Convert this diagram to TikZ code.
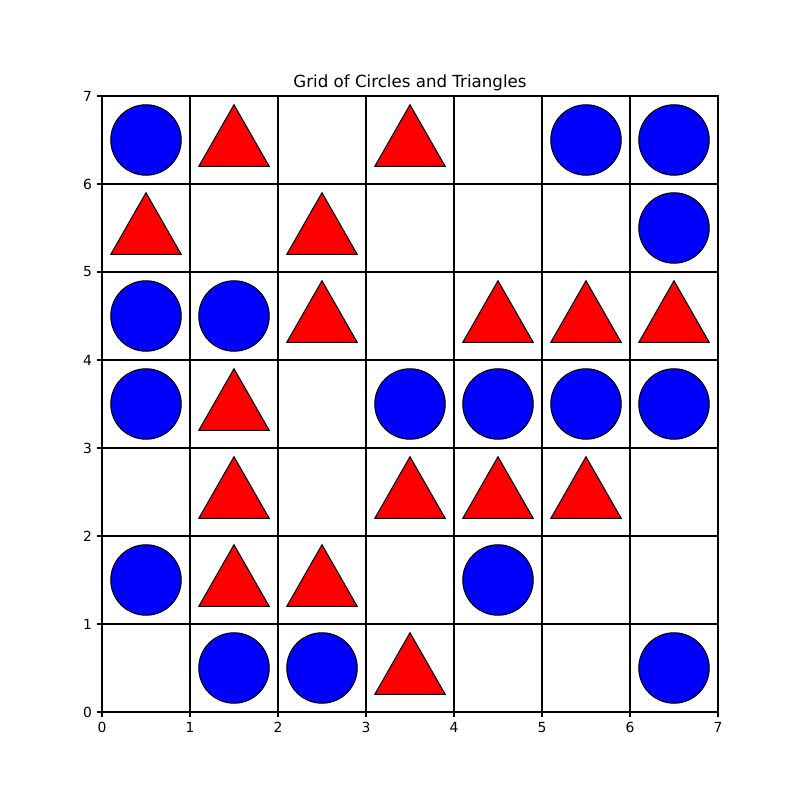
\documentclass[tikz,border=0pt]{standalone}
\usepackage{fontspec}
\setmainfont{DejaVu Sans}
\begin{document}
\begin{tikzpicture}[x=63.36pt,y=63.36pt,
 circ/.style={circle,draw=black,fill=blue,line width=0.8pt,minimum size=50.688pt,inner sep=0pt},
 tri/.style={draw=black,fill=red,line width=0.8pt},
 gridline/.style={draw=black,line width=0.8pt},
 ticklab/.style={font=\fontsize{10}{12}\selectfont,inner sep=0pt},
 titlelab/.style={font=\fontsize{12}{14}\selectfont,inner sep=0pt}]
\useasboundingbox (-1.1591,-1) rectangle (7.9318,8.0909);
% grid
\foreach \i in {1,...,6} {
  \draw[gridline] (\i,0) -- (\i,7);
  \draw[gridline] (0,\i) -- (7,\i);
}
\draw[gridline] (0,0) rectangle (7,7);
% ticks and labels
\foreach \i in {0,...,7} {
  \draw[line width=0.8pt] (\i,0) -- ++(0,-3.5pt);
  \draw[line width=0.8pt] (0,\i) -- ++(-3.5pt,0);
  \node[ticklab,anchor=north] (xl\i) at ([yshift=-7pt]\i,0) {\i};
  \node[ticklab,anchor=east] (yl\i) at ([xshift=-7pt]0,\i) {\i};
}
% circles
\foreach \c/\r in {0/6,5/6,6/6, 6/5, 0/4,1/4, 0/3,3/3,4/3,5/3,6/3, 0/1,4/1, 1/0,2/0,6/0} {
  \node[circ] (c\c\r) at (\c+0.5,\r+0.5) {};
}
% triangles
\foreach \c/\r in {1/6,3/6, 0/5,2/5, 2/4,4/4,5/4,6/4, 1/3, 1/2,3/2,4/2,5/2, 1/1,2/1, 3/0} {
  \draw[tri] (\c+0.1,\r+0.2) -- (\c+0.9,\r+0.2) -- (\c+0.5,\r+0.9) -- cycle;
}
% title
\node[titlelab,anchor=base] (title) at ([yshift=6pt]3.5,7) {Grid of Circles and Triangles};
\end{tikzpicture}
\end{document}
